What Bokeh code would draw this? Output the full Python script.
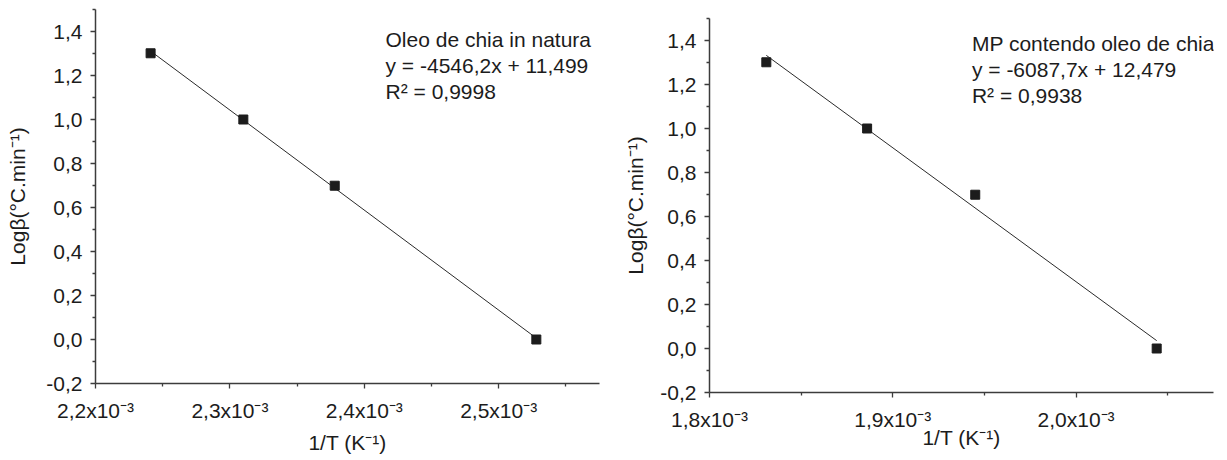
from bokeh.plotting import figure
from bokeh.layouts import row, column
from bokeh.models import FixedTicker, Range1d, Spacer
from bokeh.embed import file_html
from bokeh.resources import INLINE
from bokeh.core.properties import value

# log10 of the heating rates (20, 10, 5 and 1 °C/min)
log_beta = [1.301, 1.0, 0.699, 0.0]

# reciprocal peak temperatures (1/K) for each heating rate
inv_t_natura = [2.241e-3, 2.310e-3, 2.378e-3, 2.528e-3]
inv_t_mp = [1.831e-3, 1.886e-3, 1.945e-3, 2.044e-3]

# linear fits: (slope, intercept)
fit_natura = (-4546.2, 11.499)
fit_mp = (-6087.7, 12.479)

notes_natura = ["Oleo de chia in natura", "y = -4546,2x + 11,499", "R² = 0,9998"]
notes_mp = ["MP contendo oleo de chia", "y = -6087,7x + 12,479", "R² = 0,9938"]

y_ticks = [-0.2, 0.0, 0.2, 0.4, 0.6, 0.8, 1.0, 1.2, 1.4]
y_tick_labels = ["-0,2", "0,0", "0,2", "0,4", "0,6", "0,8", "1,0", "1,2", "1,4"]
y_minor = [-0.1, 0.1, 0.3, 0.5, 0.7, 0.9, 1.1, 1.3, 1.5]

x_ticks_natura = [2.2e-3, 2.3e-3, 2.4e-3, 2.5e-3]
x_labels_natura = ["2,2x10⁻³", "2,3x10⁻³", "2,4x10⁻³", "2,5x10⁻³"]
x_minor_natura = [2.25e-3, 2.35e-3, 2.45e-3, 2.55e-3]

x_ticks_mp = [1.8e-3, 1.9e-3, 2.0e-3]
x_labels_mp = ["1,8x10⁻³", "1,9x10⁻³", "2,0x10⁻³"]
x_minor_mp = [1.85e-3, 1.95e-3, 2.05e-3]

FONT = "Liberation Sans"
SIZE = "21px"
INK = "#1c1c1c"
AXIS = "#3c3c3c"


def panel(xs, fit, notes, x_ticks, x_labels, x_minor, x_range,
          note_x, note_y0, borders, xlabel_standoff, ylabel_standoff):
    left, right, top, bottom = borders
    p = figure(frame_width=504, frame_height=374,
               x_range=Range1d(*x_range), y_range=Range1d(-0.2, 1.5),
               output_backend="svg", toolbar_location=None,
               min_border_left=left, min_border_right=right,
               min_border_top=top, min_border_bottom=bottom)
    p.outline_line_color = None
    p.grid.visible = False
    p.background_fill_color = "white"
    p.border_fill_color = "white"

    for ax in (p.xaxis[0], p.yaxis[0]):
        ax.axis_line_color = AXIS
        ax.axis_line_width = 1.5
        ax.major_tick_line_color = AXIS
        ax.minor_tick_line_color = AXIS
        ax.major_tick_line_width = 1.3
        ax.minor_tick_line_width = 1.3
        ax.major_tick_in = 0
        ax.major_tick_out = 5
        ax.minor_tick_in = 0
        ax.minor_tick_out = 3
        ax.major_label_text_font = FONT
        ax.major_label_text_font_size = SIZE
        ax.major_label_text_color = INK
        ax.axis_label_text_font = FONT
        ax.axis_label_text_font_size = SIZE
        ax.axis_label_text_font_style = "normal"
        ax.axis_label_text_color = INK

    p.xaxis.ticker = FixedTicker(ticks=x_ticks, minor_ticks=x_minor)
    p.xaxis.major_label_overrides = dict(zip(x_ticks, x_labels))
    p.xaxis.axis_label = "1/T (K⁻¹)"
    p.xaxis.major_label_standoff = 10
    p.xaxis.axis_label_standoff = xlabel_standoff

    p.yaxis.ticker = FixedTicker(ticks=y_ticks, minor_ticks=y_minor)
    p.yaxis.major_label_overrides = dict(zip(y_ticks, y_tick_labels))
    p.yaxis.axis_label = "Logβ(°C.min⁻¹)"
    p.yaxis.major_label_standoff = 8
    p.yaxis.axis_label_standoff = ylabel_standoff

    # fitted straight line across the measured range
    slope, intercept = fit
    x_fit = [min(xs), max(xs)]
    y_fit = [slope * x + intercept for x in x_fit]
    p.line(x_fit, y_fit, line_color="#2a2a2a", line_width=1)

    p.scatter(xs, log_beta, marker="square", size=9,
              fill_color=INK, line_color=INK)

    spacing = 0.118
    p.text(x=[note_x] * len(notes),
           y=[note_y0 - i * spacing for i in range(len(notes))],
           text=notes, text_font=value(FONT), text_font_size=SIZE,
           text_color=INK, text_align="left", text_baseline="middle")
    return p


p1 = panel(inv_t_natura, fit_natura, notes_natura,
           x_ticks_natura, x_labels_natura, x_minor_natura,
           (2.2e-3, 2.575e-3), 2.4158e-3, 1.365,
           (95, 15, 9, 68), 6, 14)
p2 = panel(inv_t_mp, fit_mp, notes_mp,
           x_ticks_mp, x_labels_mp, x_minor_mp,
           (1.8e-3, 2.075e-3), 1.9432e-3, 1.386,
           (95, 14, 18, 68), -8, 10)

layout = row(column(p1, Spacer(width=614, height=9)), p2)
open("out.html", "w").write(file_html(layout, INLINE))
